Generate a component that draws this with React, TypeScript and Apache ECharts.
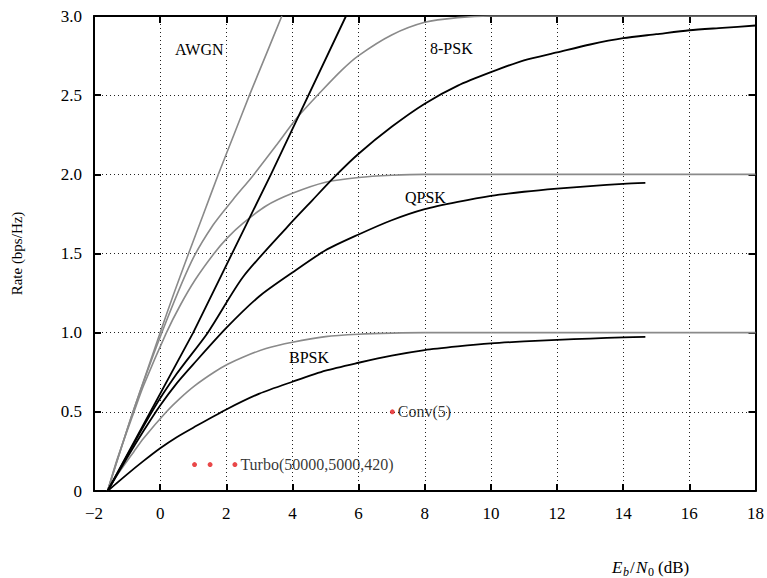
import React, { useEffect, useRef } from 'react';
import * as echarts from 'echarts';

// ---- data (Eb/N0 in dB, rate in bps/Hz) ----
const awgnX = [-1.59, -1.21, -0.82, -0.41, 0.0, 0.42, 0.86, 1.31, 1.76, 2.23, 2.7, 3.19, 3.68];
const awgnY = [0, 0.25, 0.5, 0.75, 1.0, 1.25, 1.5, 1.75, 2.0, 2.25, 2.5, 2.75, 3.0];

const bpskCapX = [-1.59, -1.3, -0.79, -0.5, 0.19, 0.6, 1.06, 1.63, 2.04, 2.5, 3.2, 4.0, 5.0, 6.0, 7.0, 8.0, 10, 12, 14, 16, 18];
const bpskCapY = [0, 0.1, 0.25, 0.333, 0.5, 0.585, 0.667, 0.75, 0.8, 0.845, 0.9, 0.94, 0.975, 0.99, 0.997, 1.0, 1.0, 1.0, 1.0, 1.0, 1.0];

const qpskCapX = [-1.59, -1.3, -0.79, -0.5, 0.19, 0.6, 1.06, 1.63, 2.04, 2.5, 3.2, 4.0, 5.0, 6.0, 7.0, 8.0, 10, 12, 14, 16, 18];
const qpskCapY = [0, 0.2, 0.5, 0.666, 1.0, 1.17, 1.334, 1.5, 1.6, 1.69, 1.8, 1.88, 1.95, 1.98, 1.994, 2.0, 2.0, 2.0, 2.0, 2.0, 2.0];

const psk8CapX = [-1.59, -0.82, 0.05, 0.95, 1.6, 2.2, 2.8, 3.5, 4.15, 4.85, 5.5, 6.0, 7.0, 8.0, 9.0, 10, 12, 14, 16, 18];
const psk8CapY = [0, 0.5, 1.0, 1.45, 1.68, 1.84, 1.99, 2.18, 2.36, 2.52, 2.66, 2.75, 2.88, 2.96, 2.99, 3.0, 3.0, 3.0, 3.0, 3.0];

const bpskX = [-1.59, -1.0, -0.5, 0.0, 0.5, 1.0, 2.0, 3.0, 4.0, 5.0, 6.0, 7.0, 8.0, 9.0, 10.0, 11.0, 12.0, 13.0, 14.0, 14.67];
const bpskY = [0, 0.105, 0.19, 0.27, 0.34, 0.4, 0.515, 0.615, 0.69, 0.76, 0.81, 0.855, 0.89, 0.913, 0.932, 0.945, 0.955, 0.963, 0.97, 0.973];

const qpskX = [-1.59, -1.0, -0.5, 0.0, 0.5, 1.0, 2.0, 3.0, 4.0, 5.0, 6.0, 7.0, 8.0, 9.0, 10.0, 11.0, 12.0, 13.0, 14.0, 14.67];
const qpskY = [0, 0.21, 0.38, 0.54, 0.68, 0.8, 1.03, 1.23, 1.38, 1.52, 1.62, 1.71, 1.78, 1.826, 1.864, 1.89, 1.91, 1.926, 1.94, 1.946];

const psk8X = [-1.59, -0.25, 0.5, 1.44, 2.5, 3.84, 4.6, 5.3, 6.0, 7.0, 8.0, 9.0, 10.0, 11.0, 12.0, 13.0, 14.0, 15.0, 16.0, 17.0, 18.0];
const psk8Y = [0, 0.5, 0.74, 1.0, 1.35, 1.667, 1.836, 1.99, 2.13, 2.3, 2.446, 2.56, 2.645, 2.72, 2.77, 2.82, 2.86, 2.885, 2.91, 2.925, 2.94];

const lineX = [-1.59, 1.0, 3.35, 5.62];
const lineY = [0, 1.0, 2.0, 3.0];

const turboX = [1.04, 1.51, 2.26];
const turboY = [0.167, 0.167, 0.167];
const turboLabel = 'Turbo(50000,5000,420)';

const convX = [7.02];
const convY = [0.5];
const convLabel = 'Conv(5)';

const curveLabels = [
  { text: 'AWGN', x: 175, y: 49 },
  { text: '8-PSK', x: 430, y: 48 },
  { text: 'QPSK', x: 405, y: 197 },
  { text: 'BPSK', x: 289, y: 357 },
];

const pairs = (xs: number[], ys: number[]) => xs.map((x, i) => [x, ys[i]]);

const FONT = 'Liberation Serif';

export default function App() {
  const ref = useRef<HTMLDivElement>(null);
  useEffect(() => {
    const chart = echarts.init(ref.current!, null, { renderer: 'svg' });
    const gray = { color: '#8a8a8a', width: 1.6 };
    const black = { color: '#000000', width: 1.8 };
    const mk = (xs: number[], ys: number[], style: any, z: number) => ({
      type: 'line',
      data: pairs(xs, ys),
      showSymbol: false,
      symbol: 'none',
      smooth: 0.25,
      lineStyle: style,
      z,
      silent: true,
    });
    const axisLine = { show: true, onZero: false, lineStyle: { color: '#000', width: 2 } };
    const axisTick = { show: true, inside: true, length: 7, lineStyle: { color: '#000', width: 2 } };
    const split = { show: true, lineStyle: { type: [1, 3], color: '#222', width: 1 } };
    const labelStyle = { fontFamily: FONT, fontSize: 17, color: '#000' };

    chart.setOption({
      animation: false,
      backgroundColor: '#fff',
      grid: { left: 94, right: 8, top: 16, bottom: 87, containLabel: false },
      xAxis: [
        {
          type: 'value', position: 'bottom', min: -2, max: 18, interval: 2,
          axisLine, axisTick, splitLine: split,
          axisLabel: { ...labelStyle, margin: 14, formatter: (v: number) => (v < 0 ? '\u2212' + Math.abs(v) : String(v)) },
        },
        {
          type: 'value', position: 'top', min: -2, max: 18, interval: 2,
          axisLine, axisTick, splitLine: { show: false }, axisLabel: { show: false },
        },
      ],
      yAxis: [
        {
          type: 'value', position: 'left', min: 0, max: 3, interval: 0.5,
          axisLine, axisTick, splitLine: split,
          axisLabel: { ...labelStyle, margin: 12, formatter: (v: number) => (v === 0 ? '0' : v.toFixed(1)) },
          name: 'Rate (bps/Hz)', nameLocation: 'middle', nameGap: 70, nameRotate: 90,
          nameTextStyle: { fontFamily: FONT, fontSize: 15, color: '#000' },
        },
        {
          type: 'value', position: 'right', min: 0, max: 3, interval: 0.5,
          axisLine, axisTick, splitLine: { show: false }, axisLabel: { show: false },
        },
      ],
      series: [
        mk(awgnX, awgnY, gray, 2),
        mk(bpskCapX, bpskCapY, gray, 2),
        mk(qpskCapX, qpskCapY, gray, 2),
        mk(psk8CapX, psk8CapY, gray, 2),
        mk(bpskX, bpskY, black, 3),
        mk(qpskX, qpskY, black, 3),
        mk(psk8X, psk8Y, black, 3),
        { ...mk(lineX, lineY, black, 3), smooth: false },
        {
          type: 'scatter', symbolSize: 5, itemStyle: { color: '#e41a1c' }, z: 4, silent: true,
          data: turboX.map((x, i) => ({
            value: [x, turboY[i]],
            label: { show: i === turboX.length - 1, formatter: turboLabel, position: 'right', distance: 3, fontFamily: FONT, fontSize: 16, color: '#000' },
          })),
        },
        {
          type: 'scatter', symbolSize: 5, itemStyle: { color: '#e41a1c' }, z: 4, silent: true,
          data: convX.map((x, i) => ({
            value: [x, convY[i]],
            label: { show: true, formatter: convLabel, position: 'right', distance: 3, fontFamily: FONT, fontSize: 16, color: '#000' },
          })),
        },
      ],
      graphic: [
        ...curveLabels.map((l) => ({
          type: 'text', x: l.x, y: l.y, z: 10, silent: true,
          style: { text: l.text, fontFamily: FONT, fontSize: 16, fill: '#000', textAlign: 'left', textVerticalAlign: 'middle' },
        })),
        { type: 'text', x: 612, y: 567, style: { text: 'E', fontFamily: FONT, fontStyle: 'italic', fontSize: 17, fill: '#000', textVerticalAlign: 'middle' } },
        { type: 'text', x: 623, y: 572, style: { text: 'b', fontFamily: FONT, fontStyle: 'italic', fontSize: 12, fill: '#000', textVerticalAlign: 'middle' } },
        { type: 'text', x: 630, y: 567, style: { text: '/', fontFamily: FONT, fontSize: 17, fill: '#000', textVerticalAlign: 'middle' } },
        { type: 'text', x: 636, y: 567, style: { text: 'N', fontFamily: FONT, fontStyle: 'italic', fontSize: 17, fill: '#000', textVerticalAlign: 'middle' } },
        { type: 'text', x: 648, y: 572, style: { text: '0', fontFamily: FONT, fontSize: 12, fill: '#000', textVerticalAlign: 'middle' } },
        { type: 'text', x: 658, y: 567, style: { text: '(dB)', fontFamily: FONT, fontSize: 17, fill: '#000', textVerticalAlign: 'middle' } },
      ],
    });
    return () => chart.dispose();
  }, []);
  return <div ref={ref} style={{ position: 'absolute', left: 0, top: 0, width: 767, height: 578 }} />;
}
